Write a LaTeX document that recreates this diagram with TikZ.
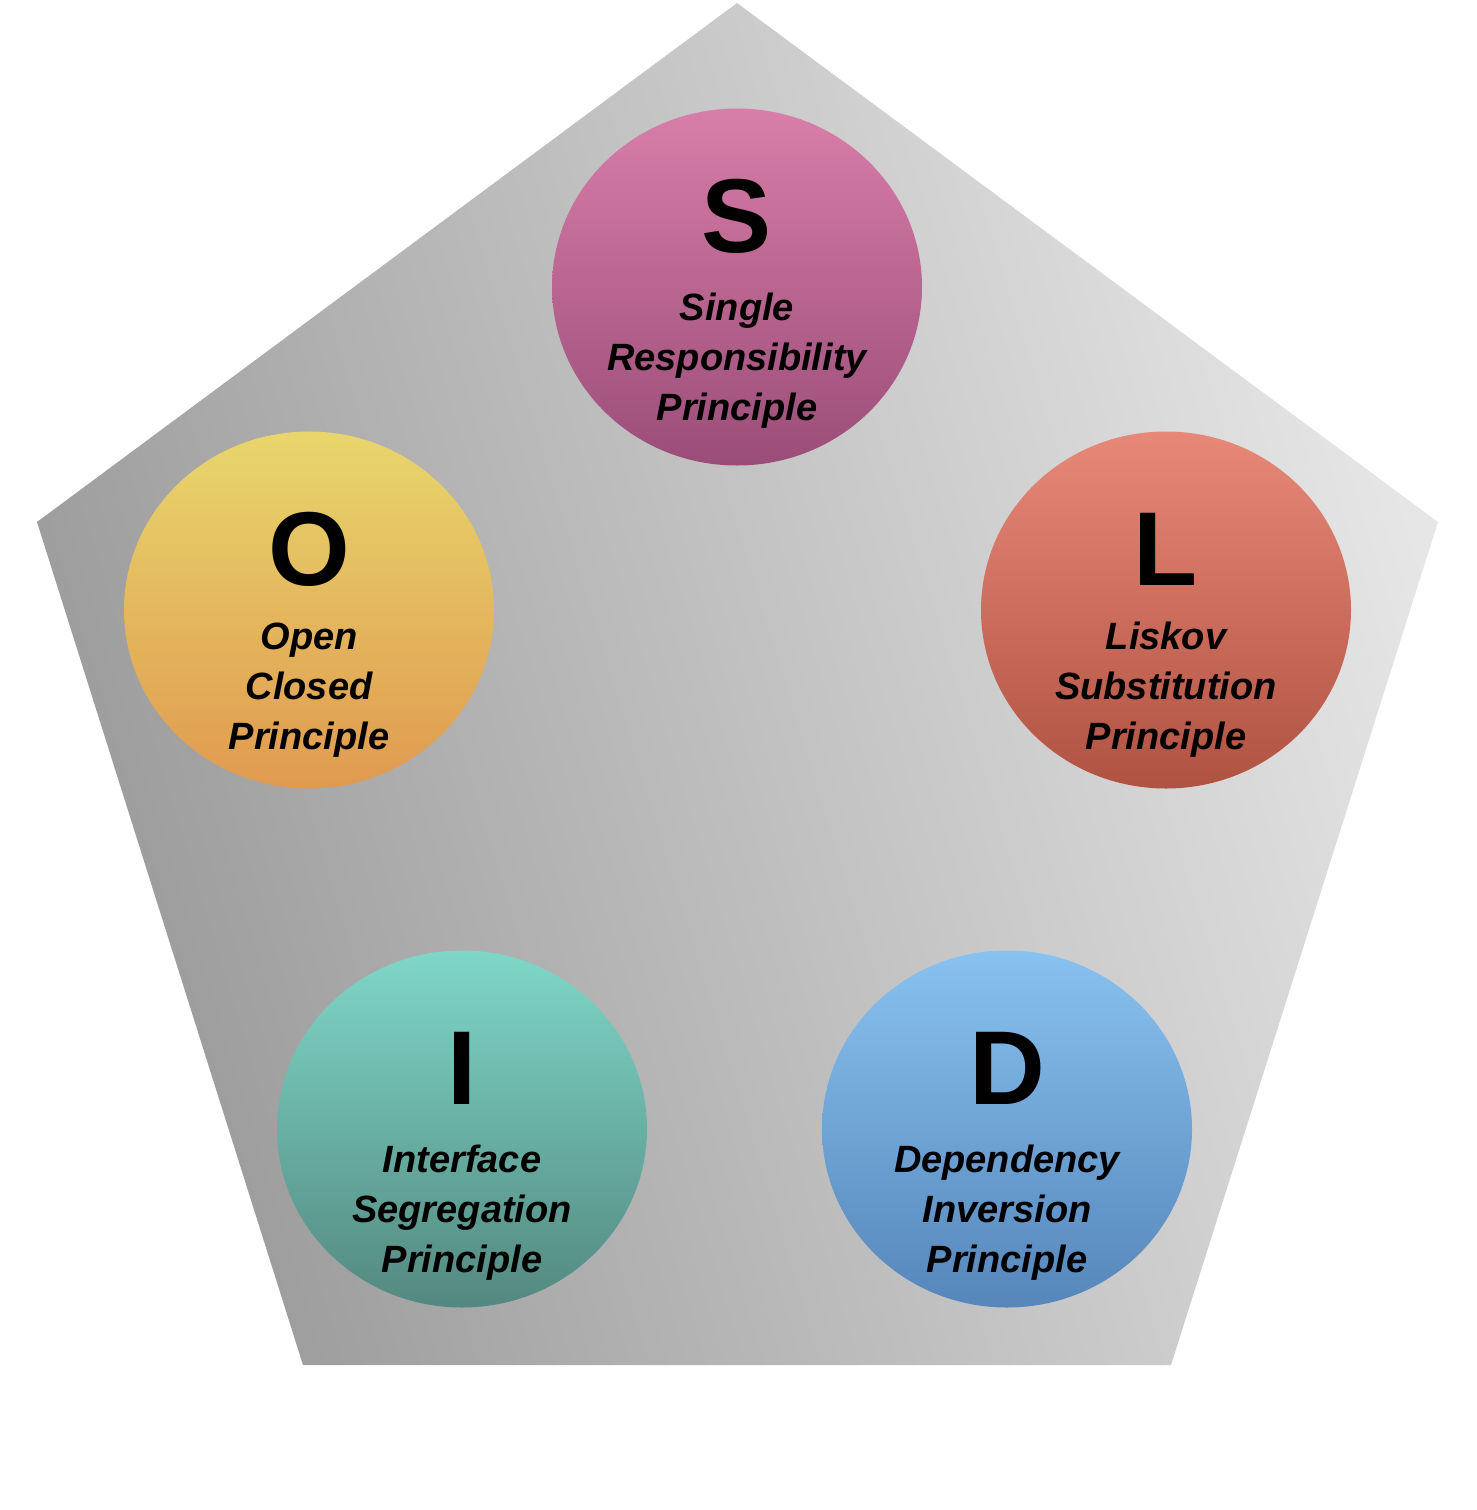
\documentclass[tikz,border=0pt]{standalone}
\usepackage{fontspec}
\setmainfont{Liberation Sans}
\usepackage{tikz}
\usetikzlibrary{shapes.geometric}
\definecolor{penLeft}{HTML}{9A9A9A}
\definecolor{penRight}{HTML}{E6E6E6}
\definecolor{sTop}{HTML}{D87EA9}
\definecolor{sBot}{HTML}{9A4D78}
\definecolor{oTop}{HTML}{E8D66C}
\definecolor{oBot}{HTML}{E09A50}
\definecolor{lTop}{HTML}{E88878}
\definecolor{lBot}{HTML}{B05242}
\definecolor{iTop}{HTML}{7FD7C8}
\definecolor{iBot}{HTML}{538880}
\definecolor{dTop}{HTML}{88C2F0}
\definecolor{dBot}{HTML}{5686BA}

\begin{document}
\begin{tikzpicture}[x=1pt,y=-1pt,line join=round,
    ball/.style={ellipse,minimum width=370pt,minimum height=357pt,inner sep=0pt},
    letter/.style={anchor=base,inner sep=0pt,font=\fontsize{105}{105}\selectfont\bfseries},
    words/.style={align=center,inner sep=0pt,font=\fontsize{38}{50}\selectfont\bfseries\itshape}]
    \useasboundingbox (0,0) rectangle (1476,1510);
    \shade[left color=penLeft,right color=penRight,shading angle=107] (737,3) -- (1438,522) -- (1171,1365) -- (303,1365) -- (37,522) -- cycle;
    % S
    \node[ball,top color=sTop,bottom color=sBot] (sBall) at (737,287) {};
    \node[letter] (sChar) at (737,252) {S};
    \node[words] (sText) at (737,361) {Single\\Responsibility\\Principle};
    % O
    \node[ball,top color=oTop,bottom color=oBot] (oBall) at (309,610) {};
    \node[letter] (oChar) at (309,585) {O};
    \node[words] (oText) at (309,690) {Open\\Closed\\Principle};
    % L
    \node[ball,top color=lTop,bottom color=lBot] (lBall) at (1166,610) {};
    \node[letter] (lChar) at (1166,585) {L};
    \node[words] (lText) at (1166,690) {Liskov\\Substitution\\Principle};
    % I
    \node[ball,top color=iTop,bottom color=iBot] (iBall) at (462,1129) {};
    \node[letter] (iChar) at (462,1104) {I};
    \node[words] (iText) at (462,1213) {Interface\\Segregation\\Principle};
    % D
    \node[ball,top color=dTop,bottom color=dBot] (dBall) at (1007,1129) {};
    \node[letter] (dChar) at (1007,1104) {D};
    \node[words] (dText) at (1007,1213) {Dependency\\Inversion\\Principle};
\end{tikzpicture}
\end{document}
